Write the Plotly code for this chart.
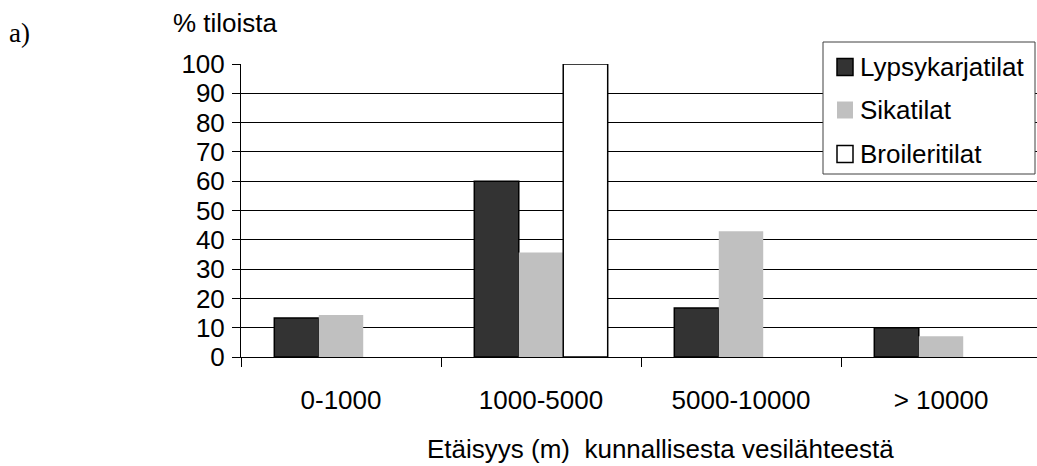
import plotly.graph_objects as go

# Share of farms (%) by distance to the municipal water source
categories = ["0-1000", "1000-5000", "5000-10000", "> 10000"]
series_names = ["Lypsykarjatilat", "Sikatilat", "Broileritilat"]
lypsykarja = [13.3, 60.0, 16.7, 10.0]
sika = [14.3, 35.7, 42.9, 7.1]
broileri = [None, 100, None, None]  # no broiler farms in the other classes
y_ticks = [0, 10, 20, 30, 40, 50, 60, 70, 80, 90, 100]

FONT = "Liberation Sans, Arial, sans-serif"
W, H = 1037, 466
ML, MR, MT, MB = 241, 0, 64, 109
PW, PH = W - ML - MR, H - MT - MB

fills = ["#333333", "#c0c0c0", "#ffffff"]
lines = [("#000000", 1.5), ("#c0c0c0", 0), ("#000000", 1.5)]


def px(x):
    return (x - ML) / PW


def py(y):
    return (H - MB - y) / PH


fig = go.Figure()
for name, vals, fc, (lc, lw) in zip(series_names, [lypsykarja, sika, broileri], fills, lines):
    fig.add_trace(go.Bar(
        x=categories, y=vals, name=name,
        marker=dict(color=fc, line=dict(color=lc, width=lw)),
        showlegend=False,
    ))

fig.update_layout(
    width=W, height=H,
    margin=dict(l=ML, r=MR, t=MT, b=MB, pad=0),
    paper_bgcolor="white", plot_bgcolor="white",
    barmode="group", bargap=0.333, bargroupgap=0,
    font=dict(family=FONT, size=26, color="black"),
    xaxis=dict(
        range=[-0.5, 3.48], tickson="boundaries", ticks="outside", ticklen=9,
        tickcolor="black", tickwidth=1, showgrid=False, showline=True,
        linecolor="black", linewidth=1, ticklabelstandoff=20,
        tickfont=dict(family=FONT, size=26, color="black"),
    ),
    yaxis=dict(
        range=[0, 100], tickvals=y_ticks, ticks="outside", ticklen=8,
        tickcolor="black", tickwidth=1, showgrid=True, gridcolor="black",
        gridwidth=1, showline=True, linecolor="black", linewidth=1,
        zeroline=False, ticklabelstandoff=2,
        tickfont=dict(family=FONT, size=26, color="black"),
    ),
)

# Legend box drawn with shapes and text
shapes = [dict(type="rect", xref="paper", yref="paper",
               x0=px(823), x1=px(1035), y0=py(174), y1=py(42),
               line=dict(color="#404040", width=1), fillcolor="white", layer="above")]
annotations = []
legend_rows = [67, 110, 154]
for name, fc, (lc, lw), cy in zip(series_names, fills, lines, legend_rows):
    shapes.append(dict(type="rect", xref="paper", yref="paper",
                       x0=px(837), x1=px(853), y0=py(cy + 8.5), y1=py(cy - 8.5),
                       line=dict(color=lc if lw else fc, width=1.5 if lw else 0),
                       fillcolor=fc, layer="above"))
    annotations.append(dict(text=name, xref="paper", yref="paper", x=px(858), y=py(cy),
                            xanchor="left", yanchor="middle", showarrow=False,
                            font=dict(family=FONT, size=26, color="black")))

annotations += [
    dict(text="% tiloista", xref="paper", yref="paper", x=px(171), y=py(23),
         xanchor="left", yanchor="middle", showarrow=False,
         font=dict(family=FONT, size=26, color="black")),
    dict(text="a)", xref="paper", yref="paper", x=px(7), y=py(33),
         xanchor="left", yanchor="middle", showarrow=False,
         font=dict(family="Liberation Serif, Times New Roman, serif", size=27, color="black")),
    dict(text="Etäisyys (m)\u00a0 kunnallisesta vesilähteestä", xref="paper", yref="paper",
         x=px(660), y=py(449), xanchor="center", yanchor="middle", showarrow=False,
         font=dict(family=FONT, size=26, color="black")),
]

fig.update_layout(shapes=shapes, annotations=annotations)
fig.write_html("out.html")
